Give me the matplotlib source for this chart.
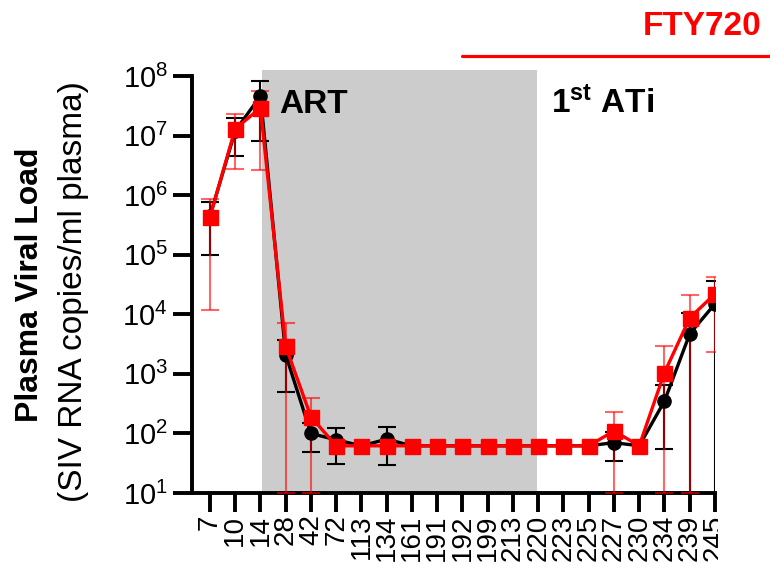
import matplotlib
matplotlib.use('Agg')
import matplotlib.pyplot as plt
import numpy as np
from matplotlib.transforms import blended_transform_factory, Bbox, TransformedBbox
from matplotlib.ticker import FixedLocator, NullLocator, LogFormatterSciNotation

plt.rcParams['font.family'] = ['Liberation Sans', 'DejaVu Sans']
plt.rcParams['mathtext.fontset'] = 'custom'
plt.rcParams['mathtext.rm'] = 'Liberation Sans'
plt.rcParams['mathtext.bf'] = 'Liberation Sans:bold'
plt.rcParams['mathtext.it'] = 'Liberation Sans:italic'
plt.rcParams['mathtext.default'] = 'regular'

# ---- data ----
days = ['7', '10', '14', '28', '42', '72', '113', '134', '161', '191', '192',
        '199', '213', '220', '223', '225', '227', '230', '234', '239', '245']
ctrl_mean = [4.4e5, 1.2e7, 4.6e7, 2.1e3, 100, 78, 62, 80, 62, 62, 62,
             62, 62, 62, 62, 62, 70, 62, 350, 4.7e3, 1.5e4]
ctrl_sd = [3.4e5, 7.5e6, 3.8e7, 1.6e3, 52, 47, 0, 50, 0, 0, 0,
           0, 0, 0, 0, 0, 36, 0, 295, 6.0e3, 2.1e4]
fty_mean = [4.3e5, 1.3e7, 2.9e7, 2.9e3, 190, 62, 62, 62, 62, 62, 62,
            62, 62, 62, 62, 62, 110, 62, 1050, 8.7e3, 2.2e4]
fty_sd = [4.18e5, 1.03e7, 2.64e7, 4.3e3, 200, 0, 0, 0, 0, 0, 0,
          0, 0, 0, 0, 0, 115, 0, 1900, 1.23e4, 1.97e4]
y_min, y_max = 10, 1e8
art_start, art_end = '14', '220'   # shaded ART period (between these days)
fty_start = '192'

RED = '#ff0000'
GRAY = '#cccccc'

fig = plt.figure(figsize=(7.7, 5.63), dpi=100)
ax = fig.add_axes([192/770, 70/563, (715-192)/770, (493-76)/563])

x = np.arange(len(days))

def draw(mean, sd, color, marker, ms, z, err_alpha):
    mean = np.array(mean, float)
    sd = np.array(sd, float)
    m = sd > 0
    lo = np.minimum(sd, mean - y_min)
    ax.errorbar(x[m], mean[m], yerr=[lo[m], sd[m]], fmt='none', ecolor=color,
                elinewidth=1.5, capsize=6.5, capthick=1.5, alpha=err_alpha, zorder=z)
    ax.plot(x, mean, color=color, lw=2.4, marker=marker, ms=ms,
            markeredgecolor=color, markerfacecolor=color, zorder=z + 2)

draw(ctrl_mean, ctrl_sd, 'black', 'o', 9.5, 2, 1.0)
draw(fty_mean, fty_sd, RED, 's', 10.8, 3, 0.6)

i14 = days.index(art_start)
i220 = days.index(art_end)
ax.axvspan(i14 + 0.05, i220 - 0.03, ymin=0, ymax=1.015, color=GRAY, lw=0,
           zorder=0, clip_on=False)

ax.set_yscale('log')
ax.set_ylim(y_min, y_max)
ax.set_xlim(-0.71, len(days) - 1)
ax.yaxis.set_major_locator(FixedLocator([10.0**k for k in range(1, 9)]))
ax.yaxis.set_major_formatter(LogFormatterSciNotation())
ax.yaxis.set_minor_locator(NullLocator())
ax.set_xticks(x)
ax.set_xticklabels(days, rotation=90)

for s in ['top', 'right']:
    ax.spines[s].set_visible(False)
for s in ['left', 'bottom']:
    ax.spines[s].set_linewidth(2.8)
ax.tick_params(axis='both', width=2.8, length=14, direction='out')
ax.tick_params(axis='y', labelsize=21, pad=3.5)
ax.tick_params(axis='x', labelsize=20, pad=1.5)

# the reference is cropped just right of the last tick
clipbox = TransformedBbox(Bbox([[0, 0], [718/770, 1]]), fig.transFigure)
last_tick = ax.xaxis.get_major_ticks()[-1]
last_tick.label1.set_clip_box(clipbox)
last_tick.label1.set_clip_on(True)

tr = blended_transform_factory(ax.transData, ax.transAxes)
ax.text(2.75, 0.911, 'ART', transform=tr, fontsize=24, fontweight='bold',
        ha='left', va='baseline')
ax.text(13.5, 0.911, r'1$^{\mathbf{st}}$ ATi', transform=tr, fontsize=24,
        fontweight='bold', ha='left', va='baseline')

ifty = days.index(fty_start)
ax.plot([ifty, len(days) + 3], [1.047, 1.047], transform=tr, color=RED, lw=2.3,
        clip_on=False, solid_capstyle='round')
fig.text(643/770, 1 - 35/563, 'FTY720', color=RED, fontsize=24,
         fontweight='bold', ha='left', va='baseline')

fig.text(38/770, 1 - 285/563, 'Plasma Viral Load', rotation=90,
         rotation_mode='anchor', ha='center', va='baseline', fontsize=23,
         fontweight='bold')
fig.text(82/770, 1 - 292/563, '(SIV RNA copies/ml plasma)', rotation=90,
         rotation_mode='anchor', ha='center', va='baseline', fontsize=24)

fig.savefig('out.png', dpi=100)
